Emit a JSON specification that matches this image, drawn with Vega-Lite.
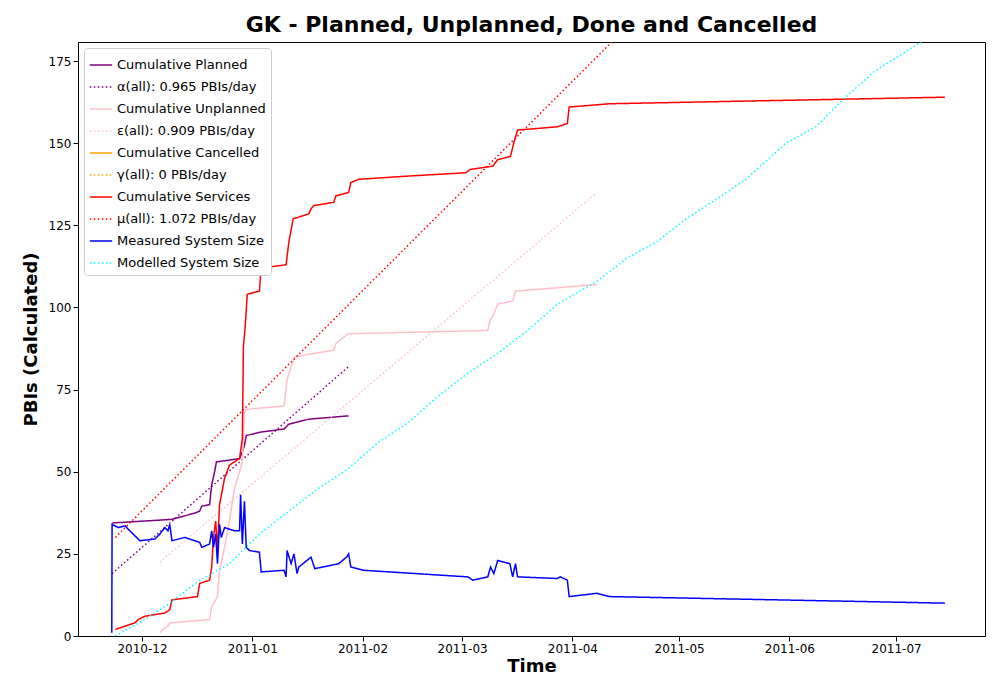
{
  "$schema": "https://vega.github.io/schema/vega-lite/v6.json",
  "width": 907,
  "height": 594,
  "autosize": "none",
  "padding": {"left": 78, "top": 42, "right": 15, "bottom": 64},
  "background": "white",
  "config": {
    "font": "DejaVu Sans",
    "view": {"stroke": "black"},
    "axis": {"grid": false, "labelFontSize": 12, "labelColor": "black", "domainColor": "black", "tickColor": "black", "tickSize": 5, "titleFontSize": 18, "titleFontWeight": "bold", "titleColor": "black"}
  },
  "title": {"text": "GK - Planned, Unplanned, Done  and Cancelled", "fontSize": 22, "fontWeight": "bold", "offset": 5},
  "data": {"values": [
    {"s": "Cumulative Planned", "t": "2010-11-22T14:00", "v": 34.4},
    {"s": "Cumulative Planned", "t": "2010-12-09T10:00", "v": 35.5},
    {"s": "Cumulative Planned", "t": "2010-12-15T19:00", "v": 37.4},
    {"s": "Cumulative Planned", "t": "2010-12-17T05:00", "v": 38},
    {"s": "Cumulative Planned", "t": "2010-12-17T19:00", "v": 39.5},
    {"s": "Cumulative Planned", "t": "2010-12-20T00:00", "v": 40},
    {"s": "Cumulative Planned", "t": "2010-12-20T14:00", "v": 46},
    {"s": "Cumulative Planned", "t": "2010-12-21T10:00", "v": 50},
    {"s": "Cumulative Planned", "t": "2010-12-21T22:00", "v": 53},
    {"s": "Cumulative Planned", "t": "2010-12-28T10:00", "v": 54},
    {"s": "Cumulative Planned", "t": "2010-12-29T05:00", "v": 56},
    {"s": "Cumulative Planned", "t": "2010-12-29T19:00", "v": 58},
    {"s": "Cumulative Planned", "t": "2010-12-30T07:00", "v": 61},
    {"s": "Cumulative Planned", "t": "2011-01-03T00:00", "v": 62},
    {"s": "Cumulative Planned", "t": "2011-01-09T22:00", "v": 63},
    {"s": "Cumulative Planned", "t": "2011-01-11T07:00", "v": 64.5},
    {"s": "Cumulative Planned", "t": "2011-01-16T22:00", "v": 66},
    {"s": "Cumulative Planned", "t": "2011-01-28T02:00", "v": 67},
    {"s": "α(all): 0.965 PBIs/day", "t": "2010-11-22T14:00", "v": 19},
    {"s": "α(all): 0.965 PBIs/day", "t": "2011-01-28T02:00", "v": 82},
    {"s": "Cumulative Unplanned", "t": "2010-12-06T00:00", "v": 1},
    {"s": "Cumulative Unplanned", "t": "2010-12-06T22:00", "v": 2},
    {"s": "Cumulative Unplanned", "t": "2010-12-08T07:00", "v": 3},
    {"s": "Cumulative Unplanned", "t": "2010-12-08T19:00", "v": 4},
    {"s": "Cumulative Unplanned", "t": "2010-12-20T00:00", "v": 5},
    {"s": "Cumulative Unplanned", "t": "2010-12-20T14:00", "v": 9},
    {"s": "Cumulative Unplanned", "t": "2010-12-21T17:00", "v": 11},
    {"s": "Cumulative Unplanned", "t": "2010-12-22T05:00", "v": 12},
    {"s": "Cumulative Unplanned", "t": "2010-12-22T19:00", "v": 20},
    {"s": "Cumulative Unplanned", "t": "2010-12-24T05:00", "v": 27},
    {"s": "Cumulative Unplanned", "t": "2010-12-25T14:00", "v": 35},
    {"s": "Cumulative Unplanned", "t": "2010-12-27T00:00", "v": 45},
    {"s": "Cumulative Unplanned", "t": "2010-12-28T10:00", "v": 50},
    {"s": "Cumulative Unplanned", "t": "2010-12-29T05:00", "v": 53},
    {"s": "Cumulative Unplanned", "t": "2010-12-29T19:00", "v": 68},
    {"s": "Cumulative Unplanned", "t": "2010-12-30T07:00", "v": 69},
    {"s": "Cumulative Unplanned", "t": "2011-01-09T22:00", "v": 70},
    {"s": "Cumulative Unplanned", "t": "2011-01-10T19:00", "v": 78},
    {"s": "Cumulative Unplanned", "t": "2011-01-11T22:00", "v": 82},
    {"s": "Cumulative Unplanned", "t": "2011-01-13T00:00", "v": 85},
    {"s": "Cumulative Unplanned", "t": "2011-01-18T07:00", "v": 86},
    {"s": "Cumulative Unplanned", "t": "2011-01-23T22:00", "v": 87},
    {"s": "Cumulative Unplanned", "t": "2011-01-24T12:00", "v": 89},
    {"s": "Cumulative Unplanned", "t": "2011-01-26T17:00", "v": 91},
    {"s": "Cumulative Unplanned", "t": "2011-01-28T02:00", "v": 92},
    {"s": "Cumulative Unplanned", "t": "2011-03-08T05:00", "v": 93},
    {"s": "Cumulative Unplanned", "t": "2011-03-08T19:00", "v": 96},
    {"s": "Cumulative Unplanned", "t": "2011-03-09T22:00", "v": 98},
    {"s": "Cumulative Unplanned", "t": "2011-03-11T00:00", "v": 101},
    {"s": "Cumulative Unplanned", "t": "2011-03-15T05:00", "v": 102},
    {"s": "Cumulative Unplanned", "t": "2011-03-16T00:00", "v": 105},
    {"s": "Cumulative Unplanned", "t": "2011-03-27T19:00", "v": 106},
    {"s": "Cumulative Unplanned", "t": "2011-04-07T22:00", "v": 107},
    {"s": "ε(all): 0.909 PBIs/day", "t": "2010-12-06T00:00", "v": 22.5},
    {"s": "ε(all): 0.909 PBIs/day", "t": "2011-04-07T22:00", "v": 135},
    {"s": "Cumulative Services", "t": "2010-11-23T12:00", "v": 2},
    {"s": "Cumulative Services", "t": "2010-11-29T00:00", "v": 4},
    {"s": "Cumulative Services", "t": "2010-11-29T22:00", "v": 5},
    {"s": "Cumulative Services", "t": "2010-12-01T19:00", "v": 6},
    {"s": "Cumulative Services", "t": "2010-12-07T10:00", "v": 7},
    {"s": "Cumulative Services", "t": "2010-12-08T19:00", "v": 8},
    {"s": "Cumulative Services", "t": "2010-12-09T10:00", "v": 11},
    {"s": "Cumulative Services", "t": "2010-12-16T14:00", "v": 12},
    {"s": "Cumulative Services", "t": "2010-12-17T05:00", "v": 16},
    {"s": "Cumulative Services", "t": "2010-12-20T00:00", "v": 17},
    {"s": "Cumulative Services", "t": "2010-12-20T14:00", "v": 21},
    {"s": "Cumulative Services", "t": "2010-12-21T02:00", "v": 30},
    {"s": "Cumulative Services", "t": "2010-12-21T17:00", "v": 35},
    {"s": "Cumulative Services", "t": "2010-12-22T05:00", "v": 26},
    {"s": "Cumulative Services", "t": "2010-12-22T19:00", "v": 40},
    {"s": "Cumulative Services", "t": "2010-12-24T05:00", "v": 48},
    {"s": "Cumulative Services", "t": "2010-12-25T14:00", "v": 52},
    {"s": "Cumulative Services", "t": "2010-12-28T10:00", "v": 54},
    {"s": "Cumulative Services", "t": "2010-12-29T05:00", "v": 60},
    {"s": "Cumulative Services", "t": "2010-12-29T12:00", "v": 88},
    {"s": "Cumulative Services", "t": "2010-12-30T00:00", "v": 94},
    {"s": "Cumulative Services", "t": "2010-12-30T14:00", "v": 104},
    {"s": "Cumulative Services", "t": "2011-01-03T00:00", "v": 105},
    {"s": "Cumulative Services", "t": "2011-01-03T12:00", "v": 112},
    {"s": "Cumulative Services", "t": "2011-01-10T12:00", "v": 113},
    {"s": "Cumulative Services", "t": "2011-01-11T07:00", "v": 120},
    {"s": "Cumulative Services", "t": "2011-01-12T12:00", "v": 127},
    {"s": "Cumulative Services", "t": "2011-01-15T12:00", "v": 128},
    {"s": "Cumulative Services", "t": "2011-01-16T22:00", "v": 128.5},
    {"s": "Cumulative Services", "t": "2011-01-17T12:00", "v": 130},
    {"s": "Cumulative Services", "t": "2011-01-18T07:00", "v": 131},
    {"s": "Cumulative Services", "t": "2011-01-23T22:00", "v": 132},
    {"s": "Cumulative Services", "t": "2011-01-24T12:00", "v": 134},
    {"s": "Cumulative Services", "t": "2011-01-28T02:00", "v": 135},
    {"s": "Cumulative Services", "t": "2011-01-28T17:00", "v": 138},
    {"s": "Cumulative Services", "t": "2011-01-30T22:00", "v": 139},
    {"s": "Cumulative Services", "t": "2011-02-13T22:00", "v": 140},
    {"s": "Cumulative Services", "t": "2011-03-02T02:00", "v": 141},
    {"s": "Cumulative Services", "t": "2011-03-03T05:00", "v": 142},
    {"s": "Cumulative Services", "t": "2011-03-09T14:00", "v": 143},
    {"s": "Cumulative Services", "t": "2011-03-11T00:00", "v": 145},
    {"s": "Cumulative Services", "t": "2011-03-14T14:00", "v": 146},
    {"s": "Cumulative Services", "t": "2011-03-15T12:00", "v": 150},
    {"s": "Cumulative Services", "t": "2011-03-16T14:00", "v": 154},
    {"s": "Cumulative Services", "t": "2011-03-27T19:00", "v": 155},
    {"s": "Cumulative Services", "t": "2011-03-30T14:00", "v": 156},
    {"s": "Cumulative Services", "t": "2011-03-31T02:00", "v": 161},
    {"s": "Cumulative Services", "t": "2011-04-11T07:00", "v": 162},
    {"s": "Cumulative Services", "t": "2011-07-14T17:00", "v": 164},
    {"s": "μ(all): 1.072 PBIs/day", "t": "2010-11-23T12:00", "v": 30},
    {"s": "μ(all): 1.072 PBIs/day", "t": "2011-04-12T02:00", "v": 180.8},
    {"s": "Measured System Size", "t": "2010-11-22T12:00", "v": 1},
    {"s": "Measured System Size", "t": "2010-11-22T14:00", "v": 34},
    {"s": "Measured System Size", "t": "2010-11-24T07:00", "v": 33},
    {"s": "Measured System Size", "t": "2010-11-26T07:00", "v": 33.5},
    {"s": "Measured System Size", "t": "2010-11-27T14:00", "v": 32},
    {"s": "Measured System Size", "t": "2010-11-30T10:00", "v": 29},
    {"s": "Measured System Size", "t": "2010-12-04T14:00", "v": 29.5},
    {"s": "Measured System Size", "t": "2010-12-06T00:00", "v": 31},
    {"s": "Measured System Size", "t": "2010-12-07T10:00", "v": 33},
    {"s": "Measured System Size", "t": "2010-12-08T07:00", "v": 32},
    {"s": "Measured System Size", "t": "2010-12-08T19:00", "v": 34},
    {"s": "Measured System Size", "t": "2010-12-09T10:00", "v": 29},
    {"s": "Measured System Size", "t": "2010-12-13T00:00", "v": 30},
    {"s": "Measured System Size", "t": "2010-12-15T19:00", "v": 29},
    {"s": "Measured System Size", "t": "2010-12-17T05:00", "v": 28.5},
    {"s": "Measured System Size", "t": "2010-12-17T19:00", "v": 27},
    {"s": "Measured System Size", "t": "2010-12-20T00:00", "v": 28},
    {"s": "Measured System Size", "t": "2010-12-20T14:00", "v": 32},
    {"s": "Measured System Size", "t": "2010-12-21T02:00", "v": 27},
    {"s": "Measured System Size", "t": "2010-12-21T17:00", "v": 31},
    {"s": "Measured System Size", "t": "2010-12-22T05:00", "v": 22},
    {"s": "Measured System Size", "t": "2010-12-22T19:00", "v": 34},
    {"s": "Measured System Size", "t": "2010-12-23T07:00", "v": 30},
    {"s": "Measured System Size", "t": "2010-12-24T05:00", "v": 33},
    {"s": "Measured System Size", "t": "2010-12-27T00:00", "v": 32},
    {"s": "Measured System Size", "t": "2010-12-28T10:00", "v": 32},
    {"s": "Measured System Size", "t": "2010-12-28T17:00", "v": 43},
    {"s": "Measured System Size", "t": "2010-12-29T05:00", "v": 28},
    {"s": "Measured System Size", "t": "2010-12-29T19:00", "v": 41},
    {"s": "Measured System Size", "t": "2010-12-30T07:00", "v": 27},
    {"s": "Measured System Size", "t": "2010-12-31T05:00", "v": 26},
    {"s": "Measured System Size", "t": "2011-01-03T00:00", "v": 25.5},
    {"s": "Measured System Size", "t": "2011-01-03T12:00", "v": 19.5},
    {"s": "Measured System Size", "t": "2011-01-09T22:00", "v": 20},
    {"s": "Measured System Size", "t": "2011-01-10T12:00", "v": 18},
    {"s": "Measured System Size", "t": "2011-01-10T19:00", "v": 26},
    {"s": "Measured System Size", "t": "2011-01-11T22:00", "v": 22},
    {"s": "Measured System Size", "t": "2011-01-12T17:00", "v": 25},
    {"s": "Measured System Size", "t": "2011-01-13T14:00", "v": 19},
    {"s": "Measured System Size", "t": "2011-01-14T02:00", "v": 21},
    {"s": "Measured System Size", "t": "2011-01-17T12:00", "v": 24},
    {"s": "Measured System Size", "t": "2011-01-18T14:00", "v": 20.5},
    {"s": "Measured System Size", "t": "2011-01-25T07:00", "v": 22},
    {"s": "Measured System Size", "t": "2011-01-27T12:00", "v": 24},
    {"s": "Measured System Size", "t": "2011-01-28T02:00", "v": 25},
    {"s": "Measured System Size", "t": "2011-01-28T17:00", "v": 21},
    {"s": "Measured System Size", "t": "2011-02-01T07:00", "v": 20},
    {"s": "Measured System Size", "t": "2011-03-02T14:00", "v": 18},
    {"s": "Measured System Size", "t": "2011-03-04T00:00", "v": 17},
    {"s": "Measured System Size", "t": "2011-03-08T05:00", "v": 18},
    {"s": "Measured System Size", "t": "2011-03-09T00:00", "v": 21},
    {"s": "Measured System Size", "t": "2011-03-09T22:00", "v": 19},
    {"s": "Measured System Size", "t": "2011-03-11T00:00", "v": 23},
    {"s": "Measured System Size", "t": "2011-03-14T10:00", "v": 22},
    {"s": "Measured System Size", "t": "2011-03-15T05:00", "v": 18},
    {"s": "Measured System Size", "t": "2011-03-16T00:00", "v": 22},
    {"s": "Measured System Size", "t": "2011-03-16T14:00", "v": 18},
    {"s": "Measured System Size", "t": "2011-03-27T19:00", "v": 17.5},
    {"s": "Measured System Size", "t": "2011-03-28T14:00", "v": 18},
    {"s": "Measured System Size", "t": "2011-03-30T14:00", "v": 17},
    {"s": "Measured System Size", "t": "2011-03-31T02:00", "v": 12},
    {"s": "Measured System Size", "t": "2011-04-07T22:00", "v": 13},
    {"s": "Measured System Size", "t": "2011-04-11T07:00", "v": 12},
    {"s": "Measured System Size", "t": "2011-07-14T17:00", "v": 10},
    {"s": "Modelled System Size", "t": "2010-11-23T12:00", "v": 0},
    {"s": "Modelled System Size", "t": "2010-12-01T19:00", "v": 5},
    {"s": "Modelled System Size", "t": "2010-12-08T19:00", "v": 10},
    {"s": "Modelled System Size", "t": "2010-12-17T05:00", "v": 17},
    {"s": "Modelled System Size", "t": "2010-12-25T14:00", "v": 22},
    {"s": "Modelled System Size", "t": "2011-01-03T00:00", "v": 31},
    {"s": "Modelled System Size", "t": "2011-01-11T07:00", "v": 38},
    {"s": "Modelled System Size", "t": "2011-01-19T17:00", "v": 45},
    {"s": "Modelled System Size", "t": "2011-01-28T02:00", "v": 51},
    {"s": "Modelled System Size", "t": "2011-02-05T12:00", "v": 59},
    {"s": "Modelled System Size", "t": "2011-02-13T22:00", "v": 65},
    {"s": "Modelled System Size", "t": "2011-02-22T05:00", "v": 73},
    {"s": "Modelled System Size", "t": "2011-03-02T14:00", "v": 80},
    {"s": "Modelled System Size", "t": "2011-03-11T00:00", "v": 86},
    {"s": "Modelled System Size", "t": "2011-03-19T10:00", "v": 93},
    {"s": "Modelled System Size", "t": "2011-03-27T19:00", "v": 101},
    {"s": "Modelled System Size", "t": "2011-04-07T22:00", "v": 108},
    {"s": "Modelled System Size", "t": "2011-04-16T07:00", "v": 115},
    {"s": "Modelled System Size", "t": "2011-04-24T17:00", "v": 120},
    {"s": "Modelled System Size", "t": "2011-05-03T02:00", "v": 127},
    {"s": "Modelled System Size", "t": "2011-05-11T12:00", "v": 133},
    {"s": "Modelled System Size", "t": "2011-05-19T19:00", "v": 139},
    {"s": "Modelled System Size", "t": "2011-05-31T00:00", "v": 150},
    {"s": "Modelled System Size", "t": "2011-06-08T10:00", "v": 155},
    {"s": "Modelled System Size", "t": "2011-06-16T19:00", "v": 164},
    {"s": "Modelled System Size", "t": "2011-06-25T02:00", "v": 172},
    {"s": "Modelled System Size", "t": "2011-07-08T07:00", "v": 181}
  ]},
  "mark": {"type": "line", "strokeWidth": 1.5, "clip": true},
  "encoding": {
    "x": {"field": "t", "type": "temporal", "title": "Time",
      "scale": {"domain": ["2010-11-13T00:00", "2011-07-26T00:00"]},
      "axis": {"format": "%Y-%m", "tickCount": {"interval": "month", "step": 1}, "titlePadding": 3}},
    "y": {"field": "v", "type": "quantitative", "title": "PBIs (Calculated)",
      "scale": {"domain": [0, 180.8], "nice": false},
      "axis": {"values": [0, 25, 50, 75, 100, 125, 150, 175], "titlePadding": 8}},
    "color": {"field": "s", "type": "nominal", "title": null,
      "scale": {
        "domain": ["Cumulative Planned", "α(all): 0.965 PBIs/day", "Cumulative Unplanned", "ε(all): 0.909 PBIs/day", "Cumulative Cancelled", "γ(all): 0 PBIs/day", "Cumulative Services", "μ(all): 1.072 PBIs/day", "Measured System Size", "Modelled System Size"],
        "range": ["purple", "purple", "pink", "pink", "orange", "orange", "red", "red", "blue", "cyan"]},
      "legend": {"orient": "top-left", "offset": 6, "symbolType": "stroke", "symbolSize": 500, "symbolStrokeWidth": 1.5, "labelFontSize": 13, "labelLimit": 300, "rowPadding": 3, "fillColor": "white", "strokeColor": "#cccccc", "padding": 5, "cornerRadius": 3}},
    "strokeDash": {"field": "s", "type": "nominal", "legend": null,
      "scale": {
        "domain": ["Cumulative Planned", "α(all): 0.965 PBIs/day", "Cumulative Unplanned", "ε(all): 0.909 PBIs/day", "Cumulative Cancelled", "γ(all): 0 PBIs/day", "Cumulative Services", "μ(all): 1.072 PBIs/day", "Measured System Size", "Modelled System Size"],
        "range": [[1, 0], [1.5, 2.5], [1, 0], [1.5, 2.5], [1, 0], [1.5, 2.5], [1, 0], [1.5, 2.5], [1, 0], [1.5, 2.5]]}}
  }
}
